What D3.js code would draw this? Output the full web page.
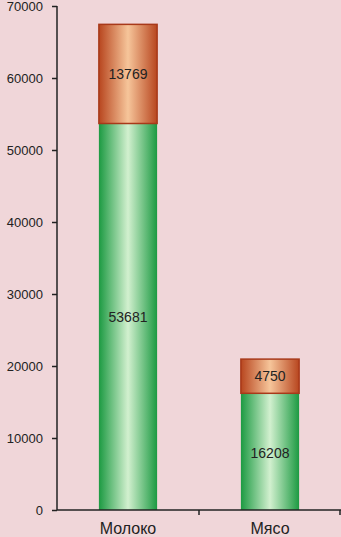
<!DOCTYPE html>
<html lang="ru">
<head>
<meta charset="UTF-8">
<title>Молоко и мясо</title>
<style>
  html, body { margin:0; padding:0; background:#f0d6d9; }
  svg { display:block; }
</style>
</head>
<body>
<svg></svg>
<script src="https://d3js.org/d3.v7.min.js"></script>
<script>
// данные
var categories = ["Молоко", "Мясо"];
var bottomValues = [53681, 16208];
var topValues = [13769, 4750];
var yTicks = [0, 10000, 20000, 30000, 40000, 50000, 60000, 70000];

var width = 341, height = 537;
var marge = {top:6, bottom:27, left:57, right:0};

var svg = d3.select("svg").attr("width", width).attr("height", height);

var defs = svg.append("defs");
function grad(id, edge, mid) {
  var g = defs.append("linearGradient").attr("id", id)
    .attr("x1", "0%").attr("x2", "100%").attr("y1", "0%").attr("y2", "0%");
  g.append("stop").attr("offset", "0%").attr("stop-color", edge);
  g.append("stop").attr("offset", "50%").attr("stop-color", mid);
  g.append("stop").attr("offset", "100%").attr("stop-color", edge);
}
grad("green", "#1c9a42", "#d2f0cf");
grad("orange", "#b8461f", "#f6c59a");

var x = d3.scaleBand().domain(categories)
  .range([marge.left, width - marge.right]).paddingInner(0.59).paddingOuter(0.295);
var y = d3.scaleLinear().domain([0, 70000]).range([height - marge.bottom, marge.top]);

var stacked = categories.map(function(c, i) {
  return {cat:c, b:bottomValues[i], t:topValues[i]};
});

var g = svg.append("g");

// нижние столбцы
g.selectAll(".bottom").data(stacked).enter().append("rect")
  .attr("x", function(d){ return x(d.cat); })
  .attr("width", x.bandwidth())
  .attr("y", function(d){ return y(d.b); })
  .attr("height", function(d){ return y(0) - y(d.b); })
  .attr("fill", "url(#green)");

// верхние столбцы
g.selectAll(".top").data(stacked).enter().append("rect")
  .attr("x", function(d){ return x(d.cat); })
  .attr("width", x.bandwidth())
  .attr("y", function(d){ return y(d.b + d.t); })
  .attr("height", function(d){ return y(d.b) - y(d.b + d.t); })
  .attr("fill", "url(#orange)")
  .attr("stroke", "#a8391a")
  .attr("stroke-width", 1.5);

// подписи значений
var lbl = g.append("g").attr("font-family", "Liberation Sans, Arial, sans-serif")
  .attr("font-size", "14px").attr("fill", "#222").attr("text-anchor", "middle");
lbl.selectAll(".lb").data(stacked).enter().append("text")
  .attr("x", function(d){ return x(d.cat) + x.bandwidth()/2; })
  .attr("y", function(d, i){ return i === 0 ? y(d.b/2) + 5 : y(0) - 52; })
  .text(function(d){ return d.b; });
lbl.selectAll(".lt").data(stacked).enter().append("text")
  .attr("x", function(d){ return x(d.cat) + x.bandwidth()/2; })
  .attr("y", function(d){ return y(d.b + d.t/2) + 5; })
  .text(function(d){ return d.t; });

// оси
var yAxis = svg.append("g")
  .attr("transform", "translate(" + marge.left + ",0)")
  .call(d3.axisLeft(y).tickValues(yTicks).tickSize(5).tickPadding(9).tickFormat(d3.format("d")));
yAxis.select(".domain").attr("stroke", "#222").attr("stroke-width", 1.5).attr("d", "M0," + y(0) + "V" + y(70000));
yAxis.selectAll(".tick line").attr("stroke", "#222").attr("stroke-width", 1.5);
yAxis.selectAll("text").attr("font-size", "13px").attr("fill", "#222")
  .attr("font-family", "Liberation Sans, Arial, sans-serif");

var xAxis = svg.append("g")
  .attr("transform", "translate(0," + y(0) + ")");
xAxis.append("line").attr("x1", marge.left).attr("x2", width).attr("stroke", "#222").attr("stroke-width", 1.5);
xAxis.selectAll(".sep").data([marge.left + (width - marge.left)/2, width - 1]).enter().append("line")
  .attr("x1", function(d){ return d; }).attr("x2", function(d){ return d; })
  .attr("y1", 0).attr("y2", 5).attr("stroke", "#222").attr("stroke-width", 1.5);
xAxis.selectAll(".cat").data(categories).enter().append("text")
  .attr("x", function(d){ return x(d) + x.bandwidth()/2; })
  .attr("y", 24)
  .attr("text-anchor", "middle")
  .attr("font-family", "Liberation Sans, Arial, sans-serif")
  .attr("font-size", "16px").attr("fill", "#222")
  .text(function(d){ return d; });
</script>
</body>
</html>
